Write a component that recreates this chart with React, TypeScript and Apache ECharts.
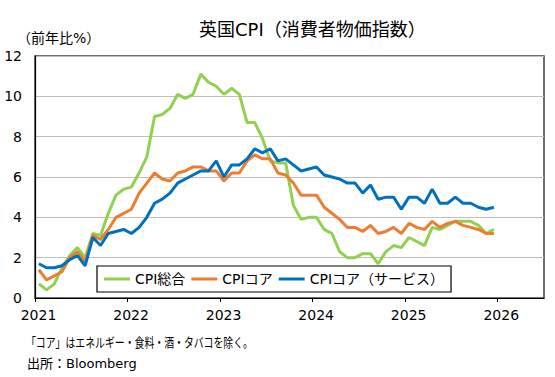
import React, { useEffect, useRef } from "react";
import * as echarts from "echarts";

// Monthly values, Jan 2021 – Dec 2025 (前年比%)
const cpiTotal = [
  0.7, 0.4, 0.7, 1.5, 2.1, 2.5, 2.0, 3.2, 3.1, 4.2, 5.1, 5.4,
  5.5, 6.2, 7.0, 9.0, 9.1, 9.4, 10.1, 9.9, 10.1, 11.1, 10.7, 10.5,
  10.1, 10.4, 10.1, 8.7, 8.7, 7.9, 6.8, 6.7, 6.7, 4.6, 3.9, 4.0,
  4.0, 3.4, 3.2, 2.3, 2.0, 2.0, 2.2, 2.2, 1.7, 2.3, 2.6, 2.5,
  3.0, 2.8, 2.6, 3.5, 3.4, 3.6, 3.8, 3.8, 3.8, 3.6, 3.2, 3.4,
];
const cpiCore = [
  1.4, 0.9, 1.1, 1.3, 2.0, 2.3, 1.8, 3.1, 2.9, 3.4, 4.0, 4.2,
  4.4, 5.2, 5.7, 6.2, 5.9, 5.8, 6.2, 6.3, 6.5, 6.5, 6.3, 6.3,
  5.8, 6.2, 6.2, 6.8, 7.1, 6.9, 6.9, 6.2, 6.1, 5.7, 5.1, 5.1,
  5.1, 4.5, 4.2, 3.9, 3.5, 3.5, 3.3, 3.6, 3.2, 3.3, 3.5, 3.2,
  3.7, 3.5, 3.4, 3.8, 3.5, 3.7, 3.8, 3.6, 3.5, 3.4, 3.2, 3.2,
];
const cpiServices = [
  1.7, 1.5, 1.5, 1.6, 1.9, 2.1, 1.6, 3.0, 2.6, 3.2, 3.3, 3.4,
  3.2, 3.5, 4.0, 4.7, 4.9, 5.2, 5.7, 5.9, 6.1, 6.3, 6.3, 6.8,
  6.0, 6.6, 6.6, 6.9, 7.4, 7.2, 7.4, 6.8, 6.9, 6.6, 6.3, 6.4,
  6.5, 6.1, 6.0, 5.9, 5.7, 5.7, 5.2, 5.6, 4.9, 5.0, 5.0, 4.4,
  5.0, 5.0, 4.7, 5.4, 4.7, 4.7, 5.0, 4.7, 4.7, 4.5, 4.4, 4.5,
];
const startYear = 2021;
const xTickYears = [2021, 2022, 2023, 2024, 2025, 2026];
const seriesNames = ["CPI総合", "CPIコア", "CPIコア（サービス）"];
const seriesColors = ["#92D050", "#ED7D31", "#0070C0"];

const titleText = "英国CPI（消費者物価指数）";
const unitText = "（前年比%）";
const noteText = "「コア」はエネルギー・食料・酒・タバコを除く。";
const sourceText = "出所：Bloomberg";

const FONT = "'DejaVu Sans', 'Noto Sans CJK JP', sans-serif";

function toPoints(vals: number[]) {
  return vals.map((v, i) => [startYear + (i + 0.5) / 12, v]);
}

export default function App() {
  const ref = useRef<HTMLDivElement>(null);
  useEffect(() => {
    if (!ref.current) return;
    const chart = echarts.init(ref.current, undefined, { renderer: "svg" });
    const allSeries = [cpiTotal, cpiCore, cpiServices];
    chart.setOption({
      animation: false,
      backgroundColor: "#ffffff",
      textStyle: { fontFamily: FONT },
      grid: {
        left: 35,
        right: 11,
        top: 56,
        bottom: 79,
        show: true,
        borderColor: "#404040",
        borderWidth: 1.5,
      },
      legend: {
        left: 97,
        top: 266,
        data: seriesNames,
        icon: "rect",
        itemWidth: 26,
        itemHeight: 3,
        itemGap: 6,
        padding: [6, 7],
        backgroundColor: "#ffffff",
        borderColor: "#000000",
        borderWidth: 1.2,
        textStyle: { fontSize: 14, color: "#000", fontFamily: FONT },
      },
      xAxis: {
        type: "value",
        min: 2021,
        max: 2026.5,
        interval: 1,
        axisLine: { show: true, lineStyle: { color: "#000", width: 1.2 } },
        axisTick: {
          show: true,
          length: 4,
          inside: false,
          customValues: xTickYears,
          lineStyle: { color: "#000" },
        },
        axisLabel: {
          customValues: xTickYears,
          formatter: (v: number) => String(Math.round(v)),
          fontSize: 14,
          color: "#000",
          margin: 10,
          padding: [0, 0, 0, 7],
          fontFamily: FONT,
        },
        splitLine: { show: false },
      },
      yAxis: {
        type: "value",
        min: 0,
        max: 12,
        interval: 2,
        axisLine: { show: true, lineStyle: { color: "#000", width: 1.2 } },
        axisTick: { show: false },
        axisLabel: { fontSize: 14, color: "#000", margin: 13, fontFamily: FONT },
        splitLine: { show: true, lineStyle: { color: "#BFBFBF", width: 1 } },
      },
      series: allSeries.map((vals, i) => ({
        name: seriesNames[i],
        type: "line",
        data: toPoints(vals),
        showSymbol: false,
        symbol: "none",
        lineStyle: { color: seriesColors[i], width: 3 },
        itemStyle: { color: seriesColors[i] },
        z: 2 + i,
      })),
      graphic: [
        {
          type: "text",
          left: 199,
          top: 20,
          style: { text: titleText, fill: "#000", font: `18px ${FONT}` },
        },
        {
          type: "text",
          left: 17,
          top: 31,
          style: { text: unitText, fill: "#000", font: `14px ${FONT}` },
        },
        {
          type: "text",
          left: 26,
          top: 336,
          scaleX: 0.76,
          style: { text: noteText, fill: "#000", font: `13px ${FONT}` },
        },
        {
          type: "text",
          left: 27,
          top: 357,
          style: { text: sourceText, fill: "#000", font: `13px ${FONT}` },
        },
      ],
    });
    return () => chart.dispose();
  }, []);
  return (
    <div
      ref={ref}
      style={{ position: "fixed", left: 0, top: 0, width: 555, height: 377 }}
    />
  );
}
